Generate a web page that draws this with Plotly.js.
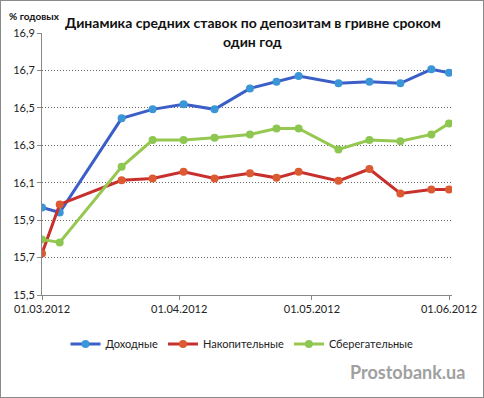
<!DOCTYPE html>
<html>
<head>
<meta charset="utf-8">
<script src="https://cdn.plot.ly/plotly-3.0.1.min.js"></script>
<style>
html,body{margin:0;padding:0;background:#fff;}
#chart{position:absolute;left:0;top:0;width:484px;height:398px;}
#frame{position:absolute;left:0;top:0;width:484px;height:398px;box-sizing:border-box;border:1px solid #8a8a8a;pointer-events:none;}
</style>
</head>
<body>
<div id="chart"></div>
<div id="frame"></div>
<script>
const dates = ['2012-03-01','2012-03-05','2012-03-19','2012-03-26','2012-04-02','2012-04-09','2012-04-17','2012-04-23','2012-04-28','2012-05-07','2012-05-14','2012-05-21','2012-05-28','2012-06-01'];
const dokhodnye = [15.968,15.941,16.444,16.492,16.519,16.492,16.604,16.640,16.670,16.631,16.640,16.631,16.706,16.688];
const nakopitelnye = [15.722,15.984,16.113,16.123,16.158,16.123,16.150,16.126,16.158,16.110,16.173,16.043,16.064,16.064];
const sberegatelnye = [15.797,15.781,16.185,16.328,16.328,16.340,16.358,16.390,16.390,16.278,16.328,16.322,16.358,16.417];
const seriesNames = ['Доходные','Накопительные','Сберегательные'];
const tickDates = ['2012-03-01','2012-04-01','2012-05-01','2012-06-01'];
const tickLabels = ['01.03.2012','01.04.2012','01.05.2012','01.06.2012'];
const yTicks = [15.5,15.7,15.9,16.1,16.3,16.5,16.7,16.9];
const titleLines = ['Динамика средних ставок по депозитам в гривне сроком','один год'];

const FONT = 'Lato, "Open Sans", sans-serif';
function tr(y, name, lineColor, markerColor){
  return {x: dates, y: y, name: name, type:'scatter', mode:'lines+markers',
    line:{color:lineColor, width:3},
    marker:{color:markerColor, size:8, line:{width:0}}};
}
const data = [
  tr(dokhodnye, seriesNames[0], '#3b5fc6', '#3a96d6'),
  tr(nakopitelnye, seriesNames[1], '#c8302e', '#dc5a32'),
  tr(sberegatelnye, seriesNames[2], '#95c751', '#8dc752')
];
const px = v => (v-42)/410;
const py = v => (295-v)/262;
const layout = {
  width:484, height:398,
  margin:{l:42, r:32, t:33, b:103},
  paper_bgcolor:'#fff', plot_bgcolor:'#fff',
  font:{family:FONT, size:11, color:'#222'},
  separators:',.',
  showlegend:true,
  xaxis:{type:'date', range:['2012-03-01','2012-06-01 16:00'],
    tickvals:tickDates, ticktext:tickLabels, ticks:'outside', ticklen:4, tickcolor:'#888',
    showline:true, linecolor:'#888', linewidth:1, showgrid:false, zeroline:false,
    tickfont:{family:FONT, size:11, color:'#222'}},
  yaxis:{range:[15.5,16.9], tickvals:yTicks, tickformat:'.1f', ticks:'outside', ticklen:4, tickcolor:'#888',
    showline:true, linecolor:'#888', linewidth:1, showgrid:true, gridcolor:'#666', griddash:'1px,2px', gridwidth:1,
    zeroline:false, tickfont:{family:FONT, size:11, color:'#222'}},
  legend:{orientation:'h', x:0.5, xref:'container', xanchor:'center', y:1-344/398, yref:'container', yanchor:'middle',
    font:{family:FONT, size:11, color:'#222'}, itemwidth:30},
  annotations:[
    {text:'<b>'+titleLines[0]+'</b>', xref:'paper', yref:'paper', x:px(252.5), y:py(22), xanchor:'center', yanchor:'middle',
     showarrow:false, font:{family:FONT, size:14, color:'#111'}},
    {text:'<b>'+titleLines[1]+'</b>', xref:'paper', yref:'paper', x:px(252.5), y:py(41), xanchor:'center', yanchor:'middle',
     showarrow:false, font:{family:FONT, size:14, color:'#111'}},
    {text:'<b>% годовых</b>', xref:'paper', yref:'paper', x:px(7), y:py(16), xanchor:'left', yanchor:'middle',
     showarrow:false, font:{family:FONT, size:10, color:'#111'}},
    {text:'<b>Prostobank.ua</b>', xref:'paper', yref:'paper', x:px(467), y:py(372), xanchor:'right', yanchor:'middle',
     showarrow:false, font:{family:FONT, size:18, color:'#a0a0a0'}}
  ]
};
Plotly.newPlot('chart', data, layout, {displayModeBar:false, staticPlot:true});
</script>
</body>
</html>
